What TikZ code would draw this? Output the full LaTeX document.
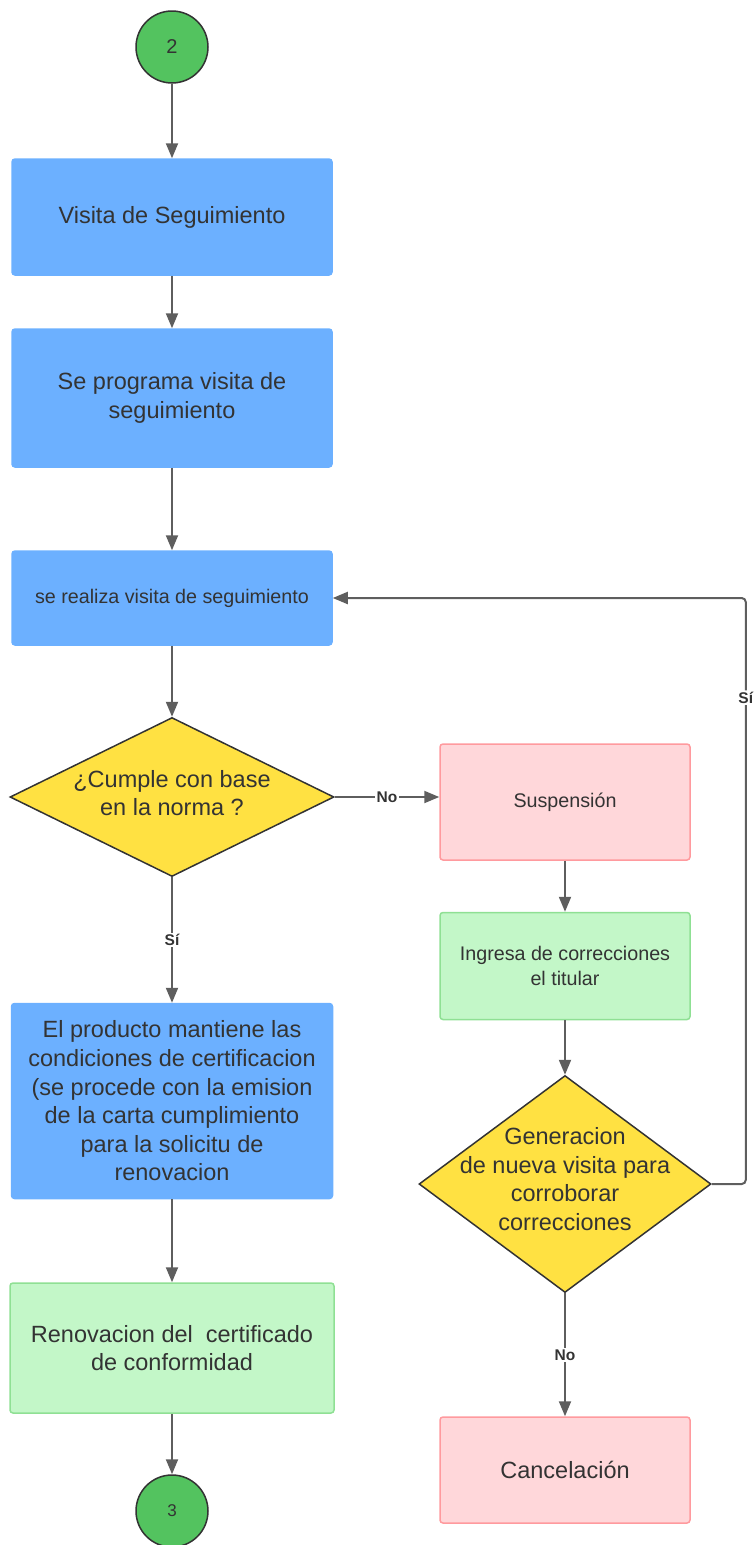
\documentclass[tikz,border=0pt]{standalone}
\usepackage{fontspec}
\setmainfont{Liberation Sans}
\usetikzlibrary{shapes.geometric,arrows.meta}

\definecolor{azul}{HTML}{6CB0FF}
\definecolor{verde}{HTML}{C3F7C8}
\definecolor{verdeb}{HTML}{8FE094}
\definecolor{rosa}{HTML}{FFD7DA}
\definecolor{rosab}{HTML}{FF9A9E}
\definecolor{amarillo}{HTML}{FFE142}
\definecolor{circ}{HTML}{53C35F}
\definecolor{linea}{HTML}{5E5E5E}
\definecolor{texto}{HTML}{333333}

\newcommand{\grande}{\fontsize{23.5}{28.6}\selectfont}
\newcommand{\chico}{\fontsize{19.7}{25}\selectfont}

\tikzset{
  caja/.style={rectangle, rounded corners=3pt, line width=1.5pt, draw=azul, fill=azul,
    minimum width=320pt, text=texto, align=center, font=\grande},
  cajav/.style={caja, draw=verdeb, fill=verde},
  cajar/.style={caja, draw=rosab, fill=rosa, minimum width=250pt},
  deci/.style={diamond, draw=texto, fill=amarillo, line width=1.5pt, inner sep=0pt},
  conector/.style={circle, draw=texto, fill=circ, line width=1.5pt, minimum size=72pt,
    inner sep=0pt, text=texto},
  txt/.style={text=texto, align=center, font=\grande},
  lab/.style={fill=white, text=texto, inner sep=1.5pt, font=\fontsize{15.5}{18}\selectfont\bfseries},
  flecha/.style={draw=linea, line width=2pt, -{Triangle[length=15pt,width=12pt]}}
}

\begin{document}
\begin{tikzpicture}[x=1pt, y=-1pt]
  \useasboundingbox (0,0) rectangle (753,1545);

  % columna izquierda
  \node[conector, font=\fontsize{20}{24}\selectfont] (A) at (172,47) {2};
  \node[caja, minimum height=116pt] (B) at (172,217) {Visita de Seguimiento};
  \node[caja, minimum height=138pt] (C) at (172,398) {Se programa visita de\\seguimiento};
  \node[caja, minimum height=94pt, font=\chico] (D) at (172,598) {se realiza visita de seguimiento};

  \node[deci, minimum width=324pt, minimum height=159pt] (E) at (172,797) {};
  \node[txt] at (172,793) {¿Cumple con base\\en la norma ?};

  \node[caja, minimum width=321pt, minimum height=195pt] (F) at (172,1101)
    {El producto mantiene las\\condiciones de certificacion\\(se procede con la emision\\de la carta cumplimiento\\para la solicitu de\\renovacion};
  \node[cajav, minimum width=324pt, minimum height=130pt] (G) at (172,1348)
    {Renovacion del~~certificado\\de conformidad};
  \node[conector, font=\fontsize{17}{20}\selectfont] (H) at (172,1511) {3};

  % columna derecha
  \node[cajar, minimum height=116pt, font=\chico] (I) at (565,802) {Suspensión};
  \node[cajav, minimum width=250pt, minimum height=107pt, font=\chico] (J) at (565,966)
    {Ingresa de correcciones\\el titular};

  \node[deci, minimum width=292pt, minimum height=217pt] (K) at (565,1184) {};
  \node[txt] at (565,1179) {Generacion\\de nueva visita para\\corroborar\\correcciones};

  \node[cajar, minimum height=106pt] (L) at (565,1470) {Cancelación};

  % flechas
  \draw[flecha] (A) to (B);
  \draw[flecha] (B) to (C);
  \draw[flecha] (C) to (D);
  \draw[flecha] (D) to (E);
  \draw[flecha] (E.south) to node[lab] {Sí} (F.north);
  \draw[flecha] (F) to (G);
  \draw[flecha] (G) to (H);

  \draw[flecha] (E.east) to node[lab] {No} (E.east -| I.west);
  \draw[flecha] (I) to (J);
  \draw[flecha] (J) to (K.north);
  \draw[flecha] (K.south) to node[lab] {No} (L.north);
  \draw[flecha, rounded corners=4pt] (K.east) -- ++(34,0) |- node[lab, pos=0.415] {Sí} (D.east);
\end{tikzpicture}
\end{document}
